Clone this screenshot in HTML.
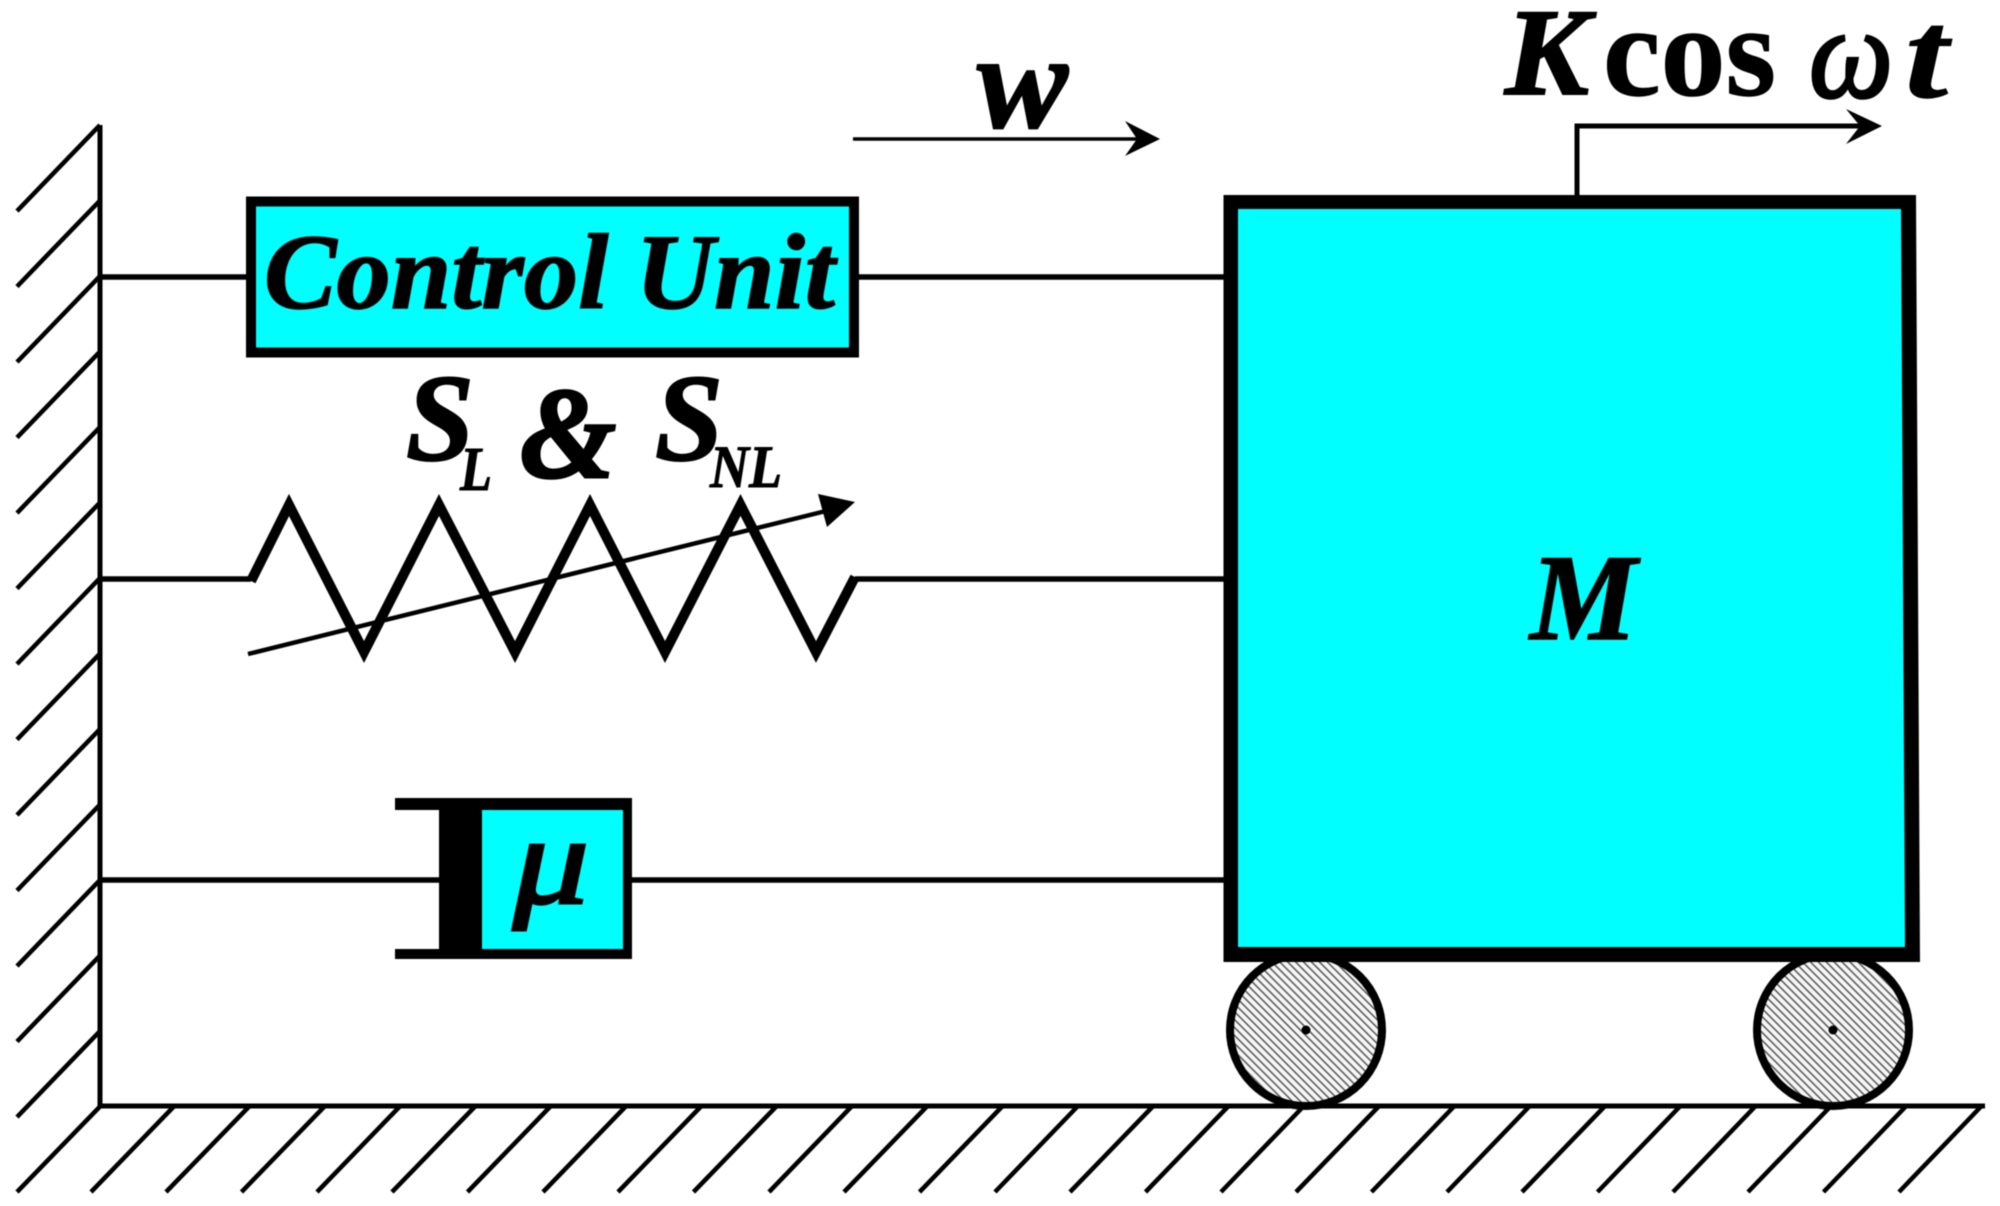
<!DOCTYPE html>
<html>
<head>
<meta charset="utf-8">
<title>Mass-spring-damper diagram</title>
<style>
html,body{margin:0;padding:0;background:#fff;}
svg{display:block;filter:blur(.5px);}
text{font-family:"Liberation Serif",serif;font-weight:bold;font-style:italic;fill:#000;stroke:#000;}
</style>
</head>
<body>
<svg width="2000" height="1206" viewBox="0 0 2000 1206" xmlns="http://www.w3.org/2000/svg">
<defs>
<pattern id="h" width="5.6" height="5.6" patternUnits="userSpaceOnUse" patternTransform="rotate(-45)">
<rect width="5.6" height="5.6" fill="#f6f6f6"/>
<rect x="0" y="0" width="1.5" height="5.6" fill="#555"/>
</pattern>
</defs>
<rect width="2000" height="1206" fill="#fff"/>

<!-- wall hatches -->
<g stroke="#000" stroke-width="4.500" fill="none">
<path d="M100 125L17 211M100 200.500L17 286.500M100 276L17 362M100 351.500L17 437.500M100 427L17 513M100 502.500L17 588.500M100 578L17 664M100 653.500L17 739.500M100 729L17 815M100 804.500L17 890.500M100 880L17 966M100 955.500L17 1041.500M100 1031L17 1117M100 1106.500L17 1192"/>
<!-- ground hatches -->
<path d="M175.300 1105L91 1192M250.600 1105L166 1192M325.900 1105L241.500 1192M401.200 1105L317 1192M476.500 1105L392 1192M551.800 1105L467.500 1192M627.100 1105L543 1192M702.400 1105L618 1192M777.700 1105L693.500 1192M853 1105L769 1192M928.300 1105L844 1192M1003.600 1105L919.500 1192M1078.900 1105L995 1192M1154.200 1105L1070 1192M1229.500 1105L1145.500 1192M1304.800 1105L1221 1192M1380.100 1105L1296 1192M1455.400 1105L1371.500 1192M1530.700 1105L1447 1192M1606 1105L1522 1192M1681.300 1105L1597.500 1192M1756.600 1105L1673 1192M1831.900 1105L1748 1192M1907.200 1105L1823.500 1192M1982.500 1105L1899 1192"/>
<path d="M100 125V1107M98 1106H1985" stroke-width="5"/>
<!-- connectors -->
<path d="M100 277H250M854 277H1226M100 579H251M855 579H1226M100 880H440M630 880H1226" stroke-width="5.500"/>
</g>

<!-- control unit -->
<rect x="251" y="201.500" width="603" height="151" fill="#00ffff" stroke="#000" stroke-width="10"/>
<text x="264" y="308" font-size="107" stroke-width="1.500" textLength="571" lengthAdjust="spacingAndGlyphs">Control Unit</text>

<!-- spring labels -->
<text x="406" y="460" font-size="124" stroke-width="2" textLength="68" lengthAdjust="spacingAndGlyphs">S</text>
<text x="460" y="490" font-size="62" stroke-width="1" textLength="32" lengthAdjust="spacingAndGlyphs">L</text>
<text x="520" y="477" font-size="130" stroke-width="3" textLength="96" lengthAdjust="spacingAndGlyphs">&amp;</text>
<text x="655" y="460" font-size="124" stroke-width="2" textLength="68" lengthAdjust="spacingAndGlyphs">S</text>
<text x="710" y="487" font-size="60" stroke-width="1" textLength="72" lengthAdjust="spacingAndGlyphs">NL</text>

<!-- spring -->
<polyline points="251,581 289,505 364,652 439,505 515,652 590,505 665,652 740.500,505 816,652 855,577" fill="none" stroke="#000" stroke-width="10" stroke-miterlimit="10"/>
<line x1="248" y1="654" x2="830" y2="510" stroke="#000" stroke-width="4.500"/>
<polygon points="855,502 818,494 827,527" fill="#000"/>

<!-- damper -->
<rect x="482" y="805" width="146" height="150" fill="#00ffff"/>
<path d="M395 798H632V959H395V949H439V810H395ZM482 810V949H623V810Z" fill="#000" fill-rule="evenodd"/>
<text x="513" y="903" font-size="126" stroke-width="3" style="font-weight:normal" textLength="76" lengthAdjust="spacingAndGlyphs">μ</text>

<!-- wheels -->
<g stroke="#000" stroke-width="8" fill="url(#h)">
<circle cx="1306" cy="1030" r="76"/>
<circle cx="1833" cy="1030" r="76"/>
</g>
<circle cx="1306" cy="1030" r="4.500" fill="#000"/>
<circle cx="1833" cy="1030" r="4.500" fill="#000"/>

<!-- mass -->
<polygon points="1238,209 1901,209 1905,947 1238,947" fill="#00ffff"/>
<path d="M1223.500 195H1916L1920 962H1223.500ZM1238 209V947H1905L1901 209Z" fill="#000" fill-rule="evenodd"/>
<text x="1530" y="639" font-size="123" stroke-width="1.500" textLength="107" lengthAdjust="spacingAndGlyphs">M</text>

<!-- w arrow -->
<text x="977" y="127" font-size="135" stroke-width="2" textLength="91" lengthAdjust="spacingAndGlyphs">w</text>
<line x1="853" y1="139" x2="1150" y2="139" stroke="#000" stroke-width="3.500"/>
<polygon points="1125,121 1160,139 1125,156 1137,139" fill="#000"/>

<!-- force arrow -->
<path d="M1577 195V126H1870" fill="none" stroke="#000" stroke-width="5"/>
<polygon points="1846,109 1882,126 1846,144 1860,126" fill="#000"/>
<text x="1505" y="94" font-size="124" stroke-width="2" textLength="84" lengthAdjust="spacingAndGlyphs">K</text>
<text x="1603" y="95" font-size="130" stroke-width="1" textLength="173" lengthAdjust="spacingAndGlyphs" style="font-style:normal">cos</text>
<text x="1809" y="97" font-size="130" stroke-width="3" textLength="84" lengthAdjust="spacingAndGlyphs" style="font-weight:normal">ω</text>
<text x="1905" y="97" font-size="126" stroke-width="1" textLength="43" lengthAdjust="spacingAndGlyphs">t</text>
</svg>
</body>
</html>
